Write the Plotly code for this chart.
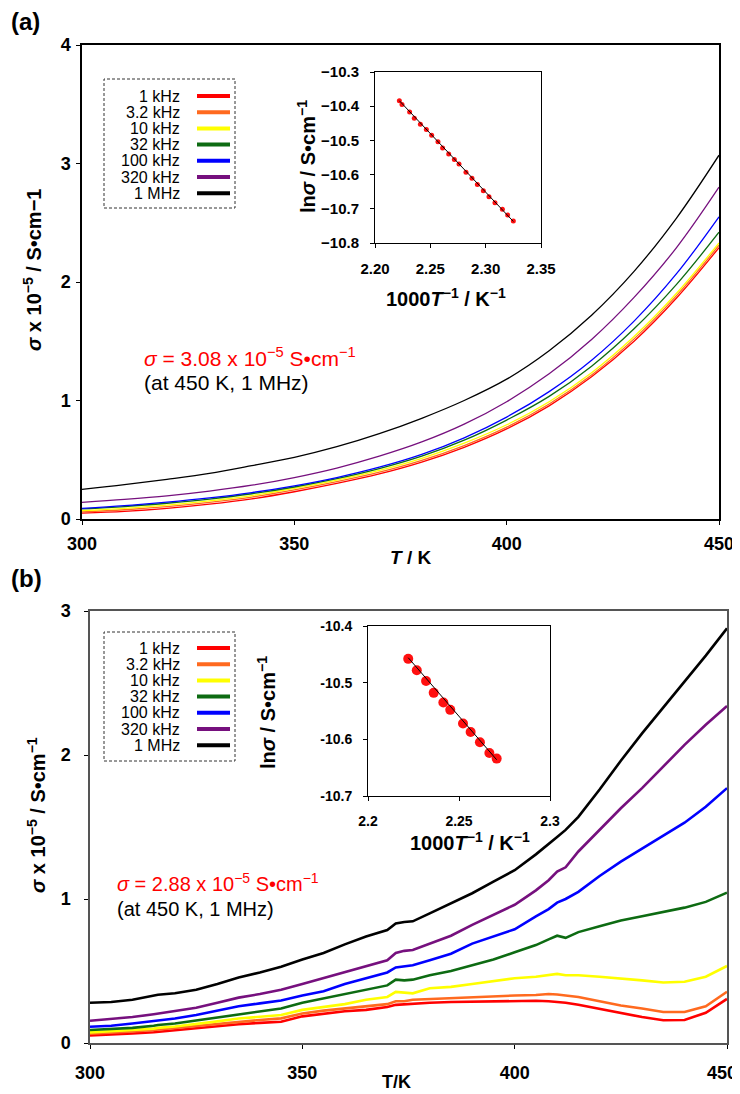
import plotly.graph_objects as go

# the page body has an 8 px margin, so the figure is drawn 8 px smaller and
# every layout position below is given in window pixels
W, H = 740, 1094
OFF = 8
FONT = "Liberation Sans, Arial, sans-serif"

freq_labels = ["1 kHz", "3.2 kHz", "10 kHz", "32 kHz", "100 kHz", "320 kHz", "1 MHz"]
line_colors = ["#ff0000", "#ff6a1f", "#ffff00", "#0d6b12", "#0000ff", "#76107e", "#000000"]

# (a) conductivity vs T, sigma x 1e-5 S/cm
T_a = [300, 310, 320, 330, 340, 350, 360, 370, 380, 390, 400, 410, 420, 430, 440, 450]
sig_a = [
    [0.05, 0.065, 0.09, 0.125, 0.17, 0.23, 0.30, 0.38, 0.48, 0.605, 0.76, 0.955, 1.20, 1.50, 1.865, 2.29],
    [0.06, 0.078, 0.104, 0.14, 0.185, 0.245, 0.315, 0.395, 0.495, 0.62, 0.775, 0.97, 1.215, 1.52, 1.885, 2.31],
    [0.07, 0.09, 0.117, 0.153, 0.198, 0.258, 0.328, 0.41, 0.512, 0.64, 0.795, 0.99, 1.235, 1.54, 1.905, 2.33],
    [0.085, 0.105, 0.133, 0.168, 0.213, 0.27, 0.34, 0.425, 0.53, 0.665, 0.835, 1.035, 1.29, 1.605, 1.98, 2.42],
    [0.09, 0.113, 0.142, 0.178, 0.223, 0.28, 0.35, 0.437, 0.545, 0.685, 0.86, 1.075, 1.34, 1.67, 2.07, 2.55],
    [0.14, 0.165, 0.195, 0.235, 0.285, 0.35, 0.43, 0.53, 0.65, 0.80, 0.99, 1.225, 1.515, 1.87, 2.29, 2.80],
    [0.25, 0.29, 0.335, 0.385, 0.45, 0.52, 0.61, 0.72, 0.85, 1.00, 1.18, 1.42, 1.72, 2.09, 2.54, 3.07],
]

# (a) inset: ln sigma vs 1000/T
inv_T_a = [2.2220, 2.2244, 2.2313, 2.2355, 2.2410, 2.2464, 2.2512, 2.2569, 2.2611, 2.2666, 2.2717,
           2.2759, 2.2822, 2.2876, 2.2925, 2.2979, 2.3030, 2.3084, 2.3151, 2.3199, 2.3250]
ln_sig_a = [-10.384, -10.395, -10.417, -10.435, -10.453, -10.468, -10.485, -10.504, -10.522, -10.540,
            -10.556, -10.569, -10.593, -10.611, -10.629, -10.647, -10.665, -10.682, -10.701, -10.718, -10.736]
fit_a_x = [2.2220, 2.3250]
fit_a_y = [-10.384, -10.737]

# (b) conductivity vs T
T_b = [300, 305, 310, 315, 316, 320, 325, 330, 335, 340, 345, 350, 355, 360, 365, 370, 372, 374, 376,
       380, 385, 390, 395, 400, 405, 408, 410, 412, 415, 420, 425, 430, 435, 440, 445, 450]
sig_b = [
    [0.053, 0.058, 0.066, 0.075, 0.078, 0.085, 0.10, 0.115, 0.13, 0.14, 0.148, 0.185, 0.205, 0.22, 0.23,
     0.25, 0.265, 0.27, 0.275, 0.28, 0.285, 0.287, 0.292, 0.293, 0.293, 0.29, 0.287, 0.28, 0.265, 0.235,
     0.21, 0.18, 0.158, 0.16, 0.21, 0.306],
    [0.065, 0.07, 0.08, 0.09, 0.093, 0.10, 0.115, 0.13, 0.145, 0.16, 0.171, 0.205, 0.225, 0.24, 0.25,
     0.27, 0.29, 0.29, 0.30, 0.305, 0.31, 0.32, 0.325, 0.33, 0.333, 0.34, 0.337, 0.33, 0.32, 0.29,
     0.26, 0.24, 0.215, 0.215, 0.255, 0.356],
    [0.074, 0.08, 0.09, 0.10, 0.105, 0.115, 0.13, 0.15, 0.17, 0.18, 0.194, 0.23, 0.25, 0.27, 0.30,
     0.32, 0.355, 0.35, 0.345, 0.38, 0.39, 0.41, 0.43, 0.45, 0.46, 0.47, 0.48, 0.47, 0.47, 0.46,
     0.45, 0.435, 0.42, 0.425, 0.46, 0.535],
    [0.09, 0.095, 0.105, 0.12, 0.125, 0.135, 0.155, 0.18, 0.20, 0.22, 0.24, 0.28, 0.31, 0.345, 0.375,
     0.40, 0.44, 0.435, 0.44, 0.47, 0.50, 0.54, 0.58, 0.63, 0.68, 0.72, 0.745, 0.73, 0.77, 0.81,
     0.85, 0.88, 0.91, 0.94, 0.98, 1.044],
    [0.113, 0.12, 0.135, 0.15, 0.155, 0.17, 0.195, 0.225, 0.255, 0.275, 0.295, 0.33, 0.36, 0.41, 0.45,
     0.49, 0.525, 0.535, 0.54, 0.575, 0.62, 0.69, 0.74, 0.79, 0.88, 0.93, 0.975, 1.00, 1.05, 1.16,
     1.26, 1.35, 1.44, 1.53, 1.64, 1.77],
    [0.155, 0.165, 0.18, 0.20, 0.205, 0.22, 0.245, 0.28, 0.315, 0.34, 0.37, 0.41, 0.45, 0.49, 0.535,
     0.575, 0.625, 0.64, 0.646, 0.69, 0.745, 0.82, 0.89, 0.96, 1.06, 1.13, 1.19, 1.22, 1.33, 1.48,
     1.63, 1.77, 1.92, 2.07, 2.21, 2.34],
    [0.28, 0.285, 0.30, 0.325, 0.335, 0.345, 0.37, 0.41, 0.455, 0.49, 0.53, 0.58, 0.625, 0.685, 0.74,
     0.785, 0.83, 0.84, 0.845, 0.90, 0.97, 1.04, 1.12, 1.20, 1.31, 1.38, 1.43, 1.48, 1.57, 1.76,
     1.96, 2.15, 2.33, 2.51, 2.69, 2.88],
]

# (b) inset
inv_T_b = [2.2221, 2.2268, 2.2319, 2.2361, 2.2414, 2.2452, 2.2522, 2.2564, 2.2615, 2.2667, 2.2707]
ln_sig_b = [-10.458, -10.478, -10.497, -10.518, -10.535, -10.548, -10.572, -10.587, -10.605, -10.624, -10.634]
fit_b_x = [2.2221, 2.2707]
fit_b_y = [-10.456, -10.636]

FW, FH = W - OFF, H - OFF


def px(x):
    return (x - OFF) / FW


def py(y):
    return 1 - (y - OFF) / FH


fig = go.Figure()

# main curves
for lbl, col, ys in zip(freq_labels, line_colors, sig_a):
    fig.add_trace(go.Scatter(x=T_a, y=ys, mode="lines", line=dict(color=col, width=1.3, shape="spline"),
                             name=lbl, xaxis="x", yaxis="y"))
for lbl, col, ys in zip(freq_labels, line_colors, sig_b):
    fig.add_trace(go.Scatter(x=T_b, y=ys, mode="lines", line=dict(color=col, width=2.6), name=lbl,
                             xaxis="x3", yaxis="y3"))

# insets
fig.add_trace(go.Scatter(x=inv_T_a, y=ln_sig_a, mode="markers", marker=dict(color="#ff1010", size=5),
                         xaxis="x2", yaxis="y2"))
fig.add_trace(go.Scatter(x=fit_a_x, y=fit_a_y, mode="lines", line=dict(color="black", width=1),
                         xaxis="x2", yaxis="y2"))
fig.add_trace(go.Scatter(x=inv_T_b, y=ln_sig_b, mode="markers", marker=dict(color="#ff1010", size=10),
                         xaxis="x4", yaxis="y4"))
fig.add_trace(go.Scatter(x=fit_b_x, y=fit_b_y, mode="lines", line=dict(color="black", width=1),
                         xaxis="x4", yaxis="y4"))

bold_tick = dict(family=FONT, size=18, color="black", weight="bold")
ax_common = dict(showgrid=False, zeroline=False, mirror=True, ticks="outside", ticklen=4,
                 tickcolor="black", showline=True, automargin=False, ticklabeloverflow="allow")

fig.update_layout(
    template="none",
    width=FW, height=FH, margin=dict(l=0, r=0, t=0, b=0, pad=0),
    paper_bgcolor="white", plot_bgcolor="white", showlegend=False,
    font=dict(family=FONT, color="black"),
    xaxis=dict(domain=[px(82), px(719)], range=[300, 450], tickvals=[300, 350, 400, 450],
               linecolor="black", linewidth=1.5, tickfont=bold_tick, ticklabelstandoff=4,
               anchor="y", **ax_common),
    yaxis=dict(domain=[py(519), py(45)], range=[0, 4], tickvals=[0, 1, 2, 3, 4],
               linecolor="black", linewidth=1.5, tickfont=bold_tick, ticklabelstandoff=2,
               anchor="x", **ax_common),
    xaxis2=dict(domain=[px(375), px(541)], range=[2.20, 2.35], tickvals=[2.20, 2.25, 2.30, 2.35],
                tickformat=".2f", linecolor="black", linewidth=1,
                tickfont=dict(family=FONT, size=15, color="black", weight="bold"),
                ticklabelstandoff=8, anchor="y2", **ax_common),
    yaxis2=dict(domain=[py(243), py(72)], range=[-10.8, -10.3],
                tickvals=[-10.8, -10.7, -10.6, -10.5, -10.4, -10.3], tickformat=".1f",
                linecolor="black", linewidth=1,
                tickfont=dict(family=FONT, size=15, color="black", weight="bold"),
                ticklabelstandoff=8, anchor="x2", **ax_common),
    xaxis3=dict(domain=[px(90), px(727)], range=[300, 450], tickvals=[300, 350, 400, 450],
                ticktext=["300", "350", "400", "450\u00a0\u00a0"],
                linecolor="#555555", linewidth=1.5, tickfont=bold_tick, ticklabelstandoff=9,
                anchor="y3", **ax_common),
    yaxis3=dict(domain=[py(1043), py(611)], range=[0, 3], tickvals=[0, 1, 2, 3],
                linecolor="#555555", linewidth=1.5, tickfont=bold_tick, ticklabelstandoff=10,
                anchor="x3", **ax_common),
    xaxis4=dict(domain=[px(368), px(550)], range=[2.2, 2.3], tickvals=[2.2, 2.25, 2.3],
                ticktext=["2.2", "2.25", "2.3"], linecolor="black", linewidth=1,
                tickfont=dict(family=FONT, size=14, color="black", weight="bold"),
                ticklabelstandoff=8, anchor="y4", **ax_common),
    yaxis4=dict(domain=[py(796), py(626)], range=[-10.7, -10.4], tickvals=[-10.7, -10.6, -10.5, -10.4],
                ticktext=["-10.7", "-10.6", "-10.5", "-10.4"], linecolor="black", linewidth=1,
                tickfont=dict(family=FONT, size=14, color="black", weight="bold"),
                ticklabelstandoff=8, anchor="x4", **ax_common),
)

ann = []
shapes = []


def text(x, y, s, size, color="black", xanchor="center", angle=0, weight="normal"):
    ann.append(dict(x=px(x), y=py(y), xref="paper", yref="paper", text=s, showarrow=False,
                    xanchor=xanchor, yanchor="middle", textangle=angle,
                    font=dict(family=FONT, size=size, color=color, weight=weight)))


# panel labels
text(9, 22, "(a)", 24, xanchor="left", weight="bold")
text(9, 578, "(b)", 24, xanchor="left", weight="bold")

# axis titles, panel (a)
text(33, 270, "<i>σ</i> x 10<sup>−5</sup> / S•cm−1", 20, angle=-90, weight="bold")
text(410, 557, "<i>T</i> / K", 19, weight="bold")
text(306, 157, "ln<i>σ</i> / S•cm<sup>−1</sup>", 20, angle=-90, weight="bold")
text(446, 297, "1000<i>T</i><sup>−1</sup> / K<sup>−1</sup>", 20, weight="bold")

# axis titles, panel (b)
text(36, 815, "<i>σ</i> x 10<sup>−5</sup> / S•cm<sup>−1</sup>", 20, angle=-90, weight="bold")
text(396, 1082, "T/K", 18, weight="bold")
text(266, 713, "ln<i>σ</i> / S•cm<sup>−1</sup>", 20, angle=-90, weight="bold")
text(470, 841, "1000<i>T</i><sup>−1</sup> / K<sup>−1</sup>", 20, weight="bold")

# value notes
text(142, 357, "<i>σ</i> = 3.08 x 10<sup>−5</sup> S•cm<sup>−1</sup>", 21, color="#ff0000", xanchor="left")
text(142, 383, "(at 450 K, 1 MHz)", 21, xanchor="left")
text(115, 882, "<i>σ</i> = 2.88 x 10<sup>−5</sup> S•cm<sup>−1</sup>", 20, color="#ff0000", xanchor="left")
text(115, 909, "(at 450 K, 1 MHz)", 20, xanchor="left")


# hand-drawn legends (label to the left of the line sample)
def legend_box(top, bottom, first_y):
    shapes.append(dict(type="rect", xref="paper", yref="paper", x0=px(104), x1=px(235),
                       y0=py(bottom), y1=py(top), line=dict(color="#333333", width=1, dash="3px,2px")))
    for i, (lbl, col) in enumerate(zip(freq_labels, line_colors)):
        yy = first_y + i * 16.2
        text(182, yy, lbl, 16, xanchor="right")
        shapes.append(dict(type="line", xref="paper", yref="paper", x0=px(197), x1=px(230),
                           y0=py(yy), y1=py(yy), line=dict(color=col, width=4)))


legend_box(79, 208, 96)
legend_box(632, 761, 648)

fig.update_layout(annotations=ann, shapes=shapes)

fig.write_html("out.html")
